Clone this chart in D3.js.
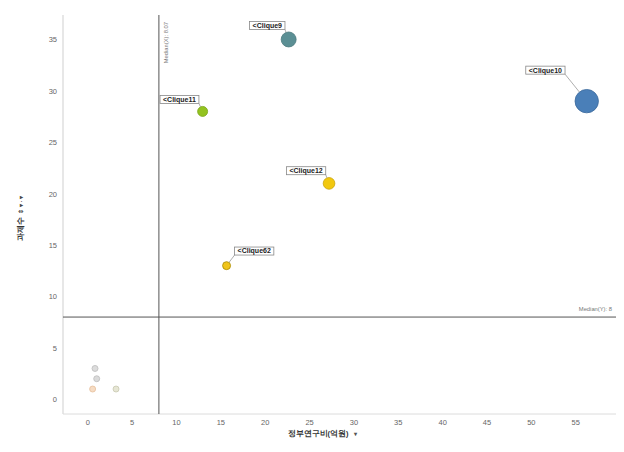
<!DOCTYPE html>
<html><head><meta charset="utf-8">
<script src="https://cdn.jsdelivr.net/npm/d3@7"></script>
<style>body{margin:0;background:#fff}svg{display:block;font-family:"Liberation Sans",Arial,sans-serif}</style>
</head><body><svg id="c" width="624" height="452"></svg>
<script>
// ---- data ----
const names   = ["Clique9","Clique10","Clique11","Clique12","Clique62","s1","s2","s3","s4"];
const budget  = [22.7, 56.3, 13.0, 27.25, 15.7, 0.87, 1.06, 0.6, 3.24];   // 정부연구비(억원)
const tasks   = [35, 29, 28, 21, 13, 3, 2, 1, 1];                          // 과제수
const sizeVal = [56, 137, 25, 34, 16, 9, 9, 9, 9];
const labeled = [true, true, true, true, true, false, false, false, false];
const xTicks  = [0,5,10,15,20,25,30,35,40,45,50,55];
const yTicks  = [0,5,10,15,20,25,30,35];
const medianX = 8.07, medianY = 8;

// ---- styles / layout ----
const fills   = ["#5b8f94","#4a7fb8","#93c320","#f2c80f","#f0c41b","#dcdcdc","#dadada","#f6dcc4","#e6e6d4"];
const strokes = ["#4b7a7e","#3c6a9c","#7aa518","#c9a40a","#a88a00","#bdbdbd","#bdbdbd","#e6bf9a","#c8c8b0"];
// label box anchor relative to circle centre: [dx, dy, anchor('right'|'left')]
const place = {Clique9:[-3.7,-10,"right"],Clique10:[-21.7,-27,"right"],Clique11:[-3.7,-8,"right"],
               Clique12:[-3.3,-8.7,"right"],Clique62:[8,-10.6,"left"]};

const svg = d3.select("#c");
const L=63, R=616, T=15, B=414;
const x = d3.scaleLinear().domain([-2.74, 59.6]).range([L, R]);
const y = d3.scaleLinear().domain([-1.43, 37.38]).range([B, T]);
const r = d3.scaleSqrt().domain([0, 137]).range([0, 11.7]);

// frame
svg.append("line").attr("x1",L).attr("x2",L).attr("y1",T).attr("y2",B).attr("stroke","#cfcfcf");
svg.append("line").attr("x1",L).attr("x2",R).attr("y1",B).attr("y2",B).attr("stroke","#dcdcdc");

// axes
const xa = svg.append("g").attr("transform",`translate(0,${B})`)
  .call(d3.axisBottom(x).tickValues(xTicks).tickSize(0).tickPadding(6));
const ya = svg.append("g").attr("transform",`translate(${L},0)`)
  .call(d3.axisLeft(y).tickValues(yTicks).tickSize(0).tickPadding(6));
[xa,ya].forEach(a=>{a.select(".domain").remove();
  a.selectAll("text").attr("fill","#666").attr("font-size","7.5px").attr("font-family","Liberation Sans, Arial, sans-serif");});

// median lines
svg.append("line").attr("x1",x(medianX)).attr("x2",x(medianX)).attr("y1",T).attr("y2",B).attr("stroke","#555").attr("stroke-width",1);
svg.append("line").attr("x1",L).attr("x2",R).attr("y1",y(medianY)).attr("y2",y(medianY)).attr("stroke","#555").attr("stroke-width",1);
svg.append("text").attr("transform",`translate(${x(medianX)+9},22) rotate(-90)`).attr("text-anchor","end")
  .attr("font-size","5.8px").attr("fill","#777").text("Median(X): "+medianX);
svg.append("text").attr("x",612).attr("y",y(medianY)-6).attr("text-anchor","end")
  .attr("font-size","5.8px").attr("fill","#777").text("Median(Y): "+medianY);

// axis titles
const xt = svg.append("text").attr("x",322).attr("y",436).attr("text-anchor","middle").attr("font-size","7.5px")
  .attr("font-weight","bold").attr("fill","#333");
xt.append("tspan").text("정부연구비(억원)");
xt.append("tspan").attr("dx",5).attr("font-size","6px").attr("fill","#555").text("▾");
const yt = svg.append("text").attr("transform","translate(23,218) rotate(-90)").attr("text-anchor","middle")
  .attr("font-size","7.5px").attr("font-weight","bold").attr("fill","#333");
yt.append("tspan").text("과제수");
yt.append("tspan").attr("dx",3).attr("font-size","6px").attr("fill","#444").text("⇕ ▾ · ▾");

// points
const data = names.map((n,i)=>({n, x:budget[i], y:tasks[i], s:sizeVal[i], lab:labeled[i], f:fills[i], st:strokes[i]}));
svg.append("g").selectAll("circle").data(data).join("circle")
  .attr("cx",d=>x(d.x)).attr("cy",d=>y(d.y)).attr("r",d=>r(d.s))
  .attr("fill",d=>d.f).attr("stroke",d=>d.st).attr("stroke-width",0.8);

// labels
const lg = svg.append("g");
data.filter(d=>d.lab).forEach(d=>{
  const cx=x(d.x), cy=y(d.y), rad=r(d.s), p=place[d.n];
  const g = lg.append("g");
  const t = g.append("text").attr("font-size","7px").attr("font-weight","bold").attr("fill","#222").text("<"+d.n);
  const w = t.node().getComputedTextLength()+6, h=8;
  const ax = cx+p[0], by = cy+p[1];
  const bx = p[2]==="right" ? ax-w : ax;
  const cornerX = p[2]==="right" ? bx+w : bx, cornerY = by;
  const dx=cx-cornerX, dy=cy-cornerY, dist=Math.hypot(dx,dy);
  if (dist>rad) g.insert("line","text").attr("x1",cornerX).attr("y1",cornerY)
     .attr("x2",cx-dx/dist*rad).attr("y2",cy-dy/dist*rad).attr("stroke","#999").attr("stroke-width",0.8);
  g.insert("rect","text").attr("x",bx).attr("y",by-h).attr("width",w).attr("height",h)
    .attr("fill","#fff").attr("stroke","#888").attr("stroke-width",0.8);
  t.attr("x",bx+3).attr("y",by-1.6);
});
</script></body></html>
